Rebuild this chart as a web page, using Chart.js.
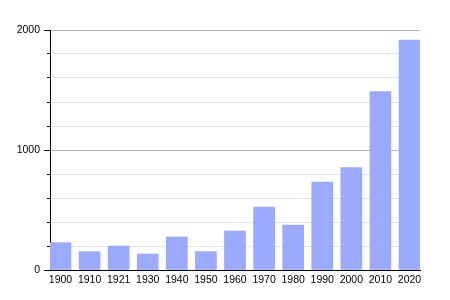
<!DOCTYPE html>
<html>
<head>
<meta charset="utf-8">
<script src="https://cdn.jsdelivr.net/npm/chart.js@4/dist/chart.umd.min.js"></script>
<style>
html,body{margin:0;padding:0;background:#fff;}
#wrap{width:450px;height:300px;position:relative;}
</style>
</head>
<body>
<div id="wrap"><canvas id="c" width="450" height="300"></canvas></div>
<script>
const years = ['1900','1910','1921','1930','1940','1950','1960','1970','1980','1990','2000','2010','2020'];
const population = [228, 153, 200, 133, 275, 153, 325, 525, 375, 733, 853, 1486, 1917];
const yTickLabels = [0, 1000, 2000];

const points = population.map((v, i) => ({x: i, y: v}));

const majorTicks = {
  id: 'majorTicks',
  afterDraw(chart) {
    const y = chart.scales.y, ctx = chart.ctx;
    const left = chart.chartArea.left;
    ctx.save();
    ctx.strokeStyle = '#000';
    ctx.lineWidth = 1;
    yTickLabels.forEach(v => {
      const py = Math.round(y.getPixelForValue(v)) + 0.5;
      ctx.beginPath();
      ctx.moveTo(left - 6, py);
      ctx.lineTo(left, py);
      ctx.stroke();
    });
    ctx.restore();
  }
};

new Chart(document.getElementById('c'), {
  type: 'bar',
  data: {
    datasets: [{
      data: points,
      backgroundColor: 'rgb(153,170,255)',
      borderWidth: 0,
      barThickness: 21
    }]
  },
  options: {
    responsive: false,
    animation: false,
    events: [],
    layout: {padding: {left: 0, right: 30, top: 30, bottom: 0}},
    plugins: {legend: {display: false}, tooltip: {enabled: false}},
    scales: {
      x: {
        type: 'linear',
        offset: false,
        min: -0.361,
        max: 12.361,
        afterBuildTicks(scale) {
          scale.ticks = years.map((_, i) => ({value: i}));
        },
        afterFit(scale) { scale.height = 30; },
        grid: {display: false, drawTicks: false},
        border: {display: true, color: '#000', width: 1},
        ticks: {
          autoSkip: false,
          maxRotation: 0,
          padding: 4,
          color: '#000',
          font: {family: 'Liberation Sans', size: 10.5},
          callback: (v) => years[v] !== undefined ? years[v] : ''
        }
      },
      y: {
        min: 0,
        max: 2000,
        afterFit(scale) { scale.width = 50; },
        border: {display: true, color: '#000', width: 1},
        grid: {
          color: (ctx) => (ctx.tick && ctx.tick.value % 1000 === 0) ? '#b4b4b4' : '#e2e2e2',
          tickColor: '#000',
          tickLength: 3
        },
        ticks: {
          stepSize: 200,
          padding: 7,
          color: '#000',
          font: {family: 'Liberation Sans', size: 10.5},
          callback: (v) => yTickLabels.includes(v) ? String(v) : ''
        }
      }
    }
  },
  plugins: [majorTicks]
});
</script>
</body>
</html>
